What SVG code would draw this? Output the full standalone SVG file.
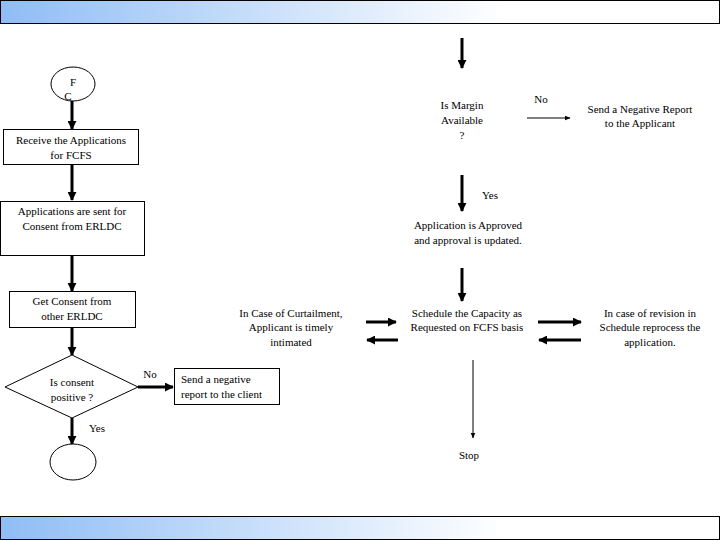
<svg xmlns="http://www.w3.org/2000/svg" width="720" height="540" viewBox="0 0 720 540" font-family="'Liberation Serif', 'DejaVu Serif', serif" font-size="11">
<defs>
<linearGradient id="g" x1="0" x2="1" y1="0" y2="0"><stop offset="0" stop-color="#8fbdf5"/><stop offset="0.7" stop-color="#ffffff"/><stop offset="1" stop-color="#ffffff"/></linearGradient>
<marker id="a" viewBox="0 0 10 10" refX="9" refY="5" markerWidth="3" markerHeight="3" orient="auto"><path d="M0,0L10,5L0,10z" fill="#000"/></marker>
<marker id="b" viewBox="0 0 10 10" refX="9" refY="5" markerWidth="6" markerHeight="6" orient="auto"><path d="M0,1L10,5L0,9z" fill="#000"/></marker>
</defs>
<style>
text{font-family:'Liberation Serif','DejaVu Serif',serif;font-size:11px;fill:#000;text-anchor:middle}
.s{fill:#fff;stroke:#000;stroke-width:1}
.c{stroke:#000;stroke-width:3;fill:none;marker-end:url(#a)}
.t{stroke:#000;stroke-width:1;fill:none;marker-end:url(#b)}
</style>
<rect width="720" height="540" fill="#fff"/>
<rect x="0.5" y="0.5" width="719" height="23" fill="url(#g)" stroke="#000"/>
<rect x="0.5" y="516.5" width="719" height="23" fill="url(#g)" stroke="#000"/>
<g id="connectors">
<line class="c" x1="72" y1="101" x2="72" y2="129"/>
<line class="c" x1="72" y1="164" x2="72" y2="200"/>
<line class="c" x1="72" y1="255" x2="72" y2="291"/>
<line class="c" x1="72" y1="327" x2="72" y2="355"/>
<line class="c" x1="138" y1="387" x2="173" y2="387"/>
<line class="c" x1="72" y1="418" x2="72" y2="444"/>
<line class="c" x1="462" y1="38" x2="462" y2="68"/>
<line class="t" x1="527" y1="118" x2="570" y2="118"/>
<line class="c" x1="462" y1="175" x2="462" y2="211"/>
<line class="c" x1="462" y1="268" x2="462" y2="301"/>
<line class="c" x1="366" y1="322" x2="396" y2="322"/>
<line class="c" x1="398" y1="340" x2="367" y2="340"/>
<line class="c" x1="538" y1="322" x2="581" y2="322"/>
<line class="c" x1="581" y1="340" x2="539" y2="340"/>
<line class="t" x1="473" y1="360" x2="473" y2="438"/>
</g>
<g id="start"><ellipse class="s" cx="73" cy="84" rx="22" ry="17"/><text x="73" y="86">F</text><text x="68" y="100">C</text></g>
<g id="receive"><rect class="s" x="3.5" y="129.5" width="135" height="35"/><text x="71" y="144">Receive the Applications</text><text x="71" y="159">for FCFS</text></g>
<g id="sent"><rect class="s" x="0.5" y="201.5" width="144" height="54"/><text x="72" y="215">Applications are sent for</text><text x="72" y="230">Consent from ERLDC</text></g>
<g id="get"><rect class="s" x="9.5" y="291.5" width="126" height="36"/><text x="72" y="305">Get Consent from</text><text x="72" y="320">other ERLDC</text></g>
<g id="consent"><polygon class="s" points="5,387 72,355 138,387 72,418"/><text x="72" y="386">Is consent</text><text x="72" y="401">positive ?</text></g>
<text x="150" y="378">No</text>
<text x="97" y="432">Yes</text>
<g id="negclient"><rect class="s" x="174.5" y="368.5" width="105" height="36"/><text x="181" y="383" style="text-anchor:start">Send a negative</text><text x="181" y="398" style="text-anchor:start">report to the client</text></g>
<g id="end"><ellipse class="s" cx="73" cy="462" rx="23" ry="18"/></g>
<g id="margin"><text x="462" y="109">Is Margin</text><text x="462" y="124">Available</text><text x="462" y="139">?</text></g>
<text x="541" y="103">No</text>
<g id="negapp"><text x="640" y="113">Send a Negative Report</text><text x="640" y="127">to the Applicant</text></g>
<text x="490" y="199">Yes</text>
<g id="approved"><text x="468" y="229">Application is Approved</text><text x="468" y="244">and approval is updated.</text></g>
<g id="curtail"><text x="291" y="317">In Case of Curtailment,</text><text x="291" y="331">Applicant is timely</text><text x="291" y="346">intimated</text></g>
<g id="schedule"><text x="467" y="317">Schedule the Capacity as</text><text x="467" y="331">Requested on FCFS basis</text></g>
<g id="revision"><text x="650" y="317">In case of revision in</text><text x="650" y="331">Schedule reprocess the</text><text x="650" y="346">application.</text></g>
<g id="stop"><text x="469" y="459">Stop</text></g>
</svg>
